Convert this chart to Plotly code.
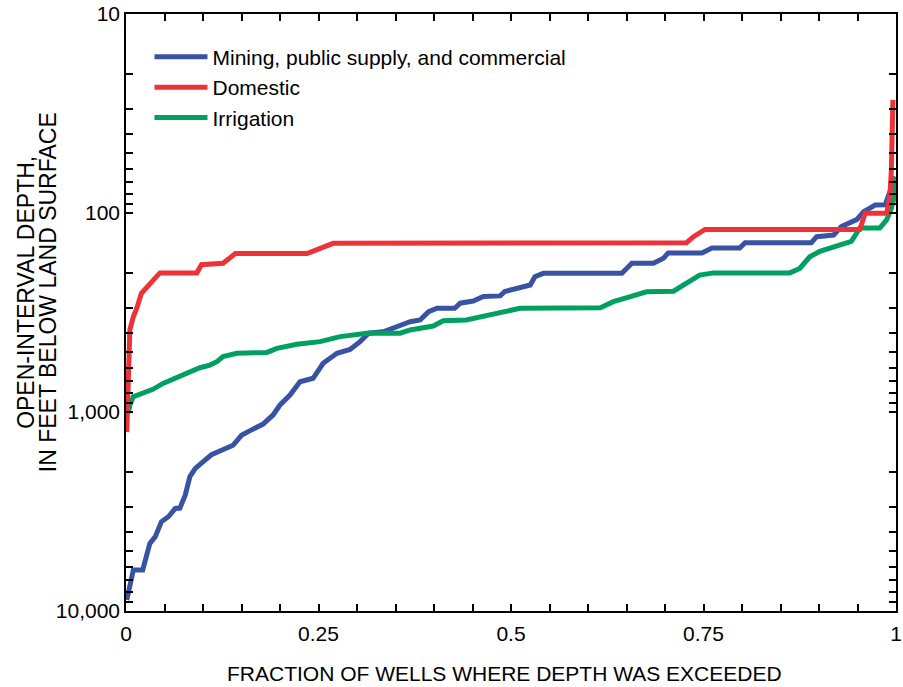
import plotly.graph_objects as go

# ---- data (fraction of wells, depth in feet) ----
mining_x = [0.001, 0.004, 0.0095, 0.0217, 0.026, 0.031, 0.038, 0.046, 0.055, 0.064, 0.070,
            0.077, 0.083, 0.090, 0.103, 0.111, 0.139, 0.150, 0.163, 0.178, 0.191, 0.200,
            0.213, 0.226, 0.243, 0.256, 0.274, 0.291, 0.304, 0.315, 0.334, 0.352, 0.369,
            0.382, 0.393, 0.404, 0.427, 0.434, 0.451, 0.464, 0.486, 0.492, 0.507, 0.525,
            0.531, 0.542, 0.644, 0.657, 0.685, 0.698, 0.704, 0.748, 0.761, 0.797, 0.804,
            0.890, 0.897, 0.919, 0.929, 0.949, 0.958, 0.973, 0.986, 0.992, 0.999]
mining_y = [8800, 7840, 6220, 6220, 5420, 4570, 4230, 3560, 3360, 3050, 3040,
            2610, 2110, 1920, 1740, 1640, 1470, 1310, 1230, 1150, 1035, 922,
            822, 705, 677, 569, 507, 485, 443, 402, 395, 373, 352,
            345, 313, 301, 301, 284, 277, 263, 261, 248, 239, 230,
            209, 201, 201, 179, 179, 169, 159, 159, 150, 150, 141,
            141, 131.5, 129, 117, 108, 98.4, 91.2, 91, 79.6, 65.7]

domestic_x = [0.001, 0.002, 0.003, 0.005, 0.0095, 0.014, 0.020, 0.029, 0.035, 0.044,
              0.092, 0.098, 0.126, 0.142, 0.235, 0.252, 0.269, 0.728, 0.737, 0.752,
              0.953, 0.960, 0.988, 0.992, 0.994, 0.996]
domestic_y = [1262, 871, 470, 387, 332, 301, 253, 230, 217, 200,
              200, 182, 179, 160, 160, 150, 142, 141, 131.5, 121,
              121, 100.3, 100.3, 82.8, 60.8, 27]

irrigation_x = [0.003, 0.005, 0.0095, 0.022, 0.035, 0.048, 0.066, 0.079, 0.096, 0.109,
                0.118, 0.126, 0.144, 0.183, 0.196, 0.222, 0.252, 0.278, 0.313, 0.356,
                0.369, 0.399, 0.412, 0.442, 0.460, 0.486, 0.512, 0.616, 0.633, 0.655,
                0.676, 0.711, 0.723, 0.736, 0.745, 0.763, 0.862, 0.875, 0.888, 0.901,
                0.919, 0.932, 0.942, 0.949, 0.953, 0.979, 0.988, 0.994, 0.999, 1.0]
irrigation_y = [1012, 922, 837, 800, 769, 718, 672, 639, 599, 581,
                559, 527, 507, 502, 479, 457, 443, 418, 402, 402,
                387, 370, 348, 345, 332, 317, 301, 299, 279, 263,
                249, 247, 230, 213, 205, 200, 200, 190, 166, 156,
                148, 142, 139, 126, 119, 119, 108, 94.6, 79.6, 65.7]

x_tickvals = [0, 0.25, 0.5, 0.75, 1]
x_ticktext = ["0", "0.25", "0.5", "0.75", "1"]
y_tickvals = [10, 100, 1000, 10000]
y_ticktext = ["10", "100", "1,000", "10,000"]

FONT = "Liberation Sans, Arial, Helvetica, sans-serif"
BLUE = "#3953A4"
RED = "#EE3338"
GREEN = "#00A060"

fig = go.Figure()
fig.add_trace(go.Scatter(x=mining_x, y=mining_y, mode="lines", name="Mining, public supply, and commercial",
                         line=dict(color=BLUE, width=5), legendrank=1))
fig.add_trace(go.Scatter(x=irrigation_x, y=irrigation_y, mode="lines", name="Irrigation",
                         line=dict(color=GREEN, width=5), legendrank=3))
fig.add_trace(go.Scatter(x=domestic_x, y=domestic_y, mode="lines", name="Domestic",
                         line=dict(color=RED, width=5), legendrank=2))

minor_y = [m * 10 ** e for e in (1, 2, 3) for m in range(2, 10)]

axis_common = dict(ticks="inside", ticklen=7, tickwidth=1.5, tickcolor="black",
                   showline=True, linecolor="black", linewidth=1.5, mirror="ticks",
                   showgrid=False, zeroline=False, automargin=False,
                   tickfont=dict(size=21))

fig.update_layout(
    width=903, height=687,
    margin=dict(l=126, r=7, t=14, b=76),
    paper_bgcolor="white", plot_bgcolor="white",
    font=dict(family=FONT, size=21, color="black"),
    showlegend=True,
    legend=dict(x=0.0305, y=0.962, xanchor="left", yanchor="top", itemwidth=53,
                bgcolor="rgba(0,0,0,0)", font=dict(size=21)),
    xaxis=dict(range=[0, 1], tickvals=x_tickvals, ticktext=x_ticktext, ticklabelstandoff=3,
               minor=dict(tickvals=[i * 0.05 for i in range(21)], ticks="inside",
                          ticklen=7, tickwidth=1.5, tickcolor="black", showgrid=False),
               **axis_common),
    yaxis=dict(type="log", range=[4, 1], tickvals=y_tickvals, ticktext=y_ticktext,
               minor=dict(tickvals=minor_y, ticks="inside", ticklen=7, tickwidth=1.5,
                          tickcolor="black", showgrid=False),
               **axis_common),
    annotations=[
        dict(text="FRACTION OF WELLS WHERE DEPTH WAS EXCEEDED",
             xref="paper", yref="paper", x=0.492, y=-0.104,
             xanchor="center", yanchor="middle", showarrow=False, font=dict(size=21)),
        dict(text="OPEN-INTERVAL DEPTH,",
             xref="paper", yref="paper", x=-0.1290, y=0.534,
             xanchor="center", yanchor="middle", textangle=-90,
             showarrow=False, font=dict(size=23)),
        dict(text="IN FEET BELOW LAND SURFACE",
             xref="paper", yref="paper", x=-0.1013, y=0.534,
             xanchor="center", yanchor="middle", textangle=-90,
             showarrow=False, font=dict(size=23)),
    ],
)

# remove the browser's default 8px page margin so the figure fills the window
fig.write_html("out.html", config={"displayModeBar": False},
               post_script="document.body.style.margin='0';document.body.style.padding='0';")
